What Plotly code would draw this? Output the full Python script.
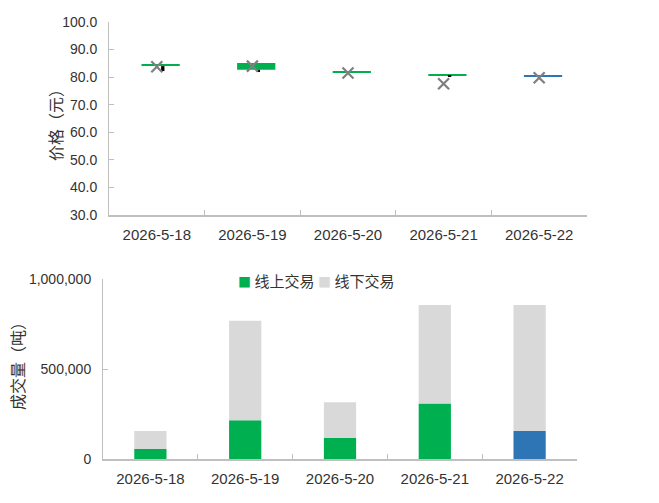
import plotly.graph_objects as go

dates = ["2026-5-18", "2026-5-19", "2026-5-20", "2026-5-21", "2026-5-22"]

# price chart (元)
price_open = [84.5, 85.1, 82.1, 81.1, 80.5]
price_close = [84.0, 82.7, 81.6, 80.6, 80.2]
price_low = [82.2, 82.2, 81.6, 80.3, 80.2]
price_avg = [83.8, 84.0, 81.5, 77.6, 79.8]
box_colors = ["#00B050", "#00B050", "#00B050", "#00B050", "#2E75B6"]

# volume chart (吨)
vol_online = [55000, 215000, 116000, 309000, 155000]
vol_offline = [100000, 553000, 199000, 547000, 701000]
online_colors = ["#00B050", "#00B050", "#00B050", "#00B050", "#2E75B6"]
series_names = ["线上交易", "线下交易"]
series_colors = ["#00B050", "#D9D9D9"]

FONT = "Liberation Sans, Noto Sans CJK SC, sans-serif"
CJK = "Noto Sans CJK SC, sans-serif"
TXT = "#333333"
AX = "#BFBFBF"

fig = go.Figure()

# boxes (open-close)
fig.add_trace(go.Bar(
    x=dates, y=[c - o for o, c in zip(price_open, price_close)], base=price_open,
    width=0.4, offset=-0.16, marker=dict(color=box_colors, line=dict(width=0)),
    xaxis="x", yaxis="y", showlegend=False, hoverinfo="skip"))
# wicks
fig.add_trace(go.Bar(
    x=dates, y=[min(o, c) - l for o, c, l in zip(price_open, price_close, price_low)],
    base=price_low, width=0.035, offset=0.045,
    marker=dict(color="#000000", line=dict(width=0)),
    xaxis="x", yaxis="y", showlegend=False, hoverinfo="skip"))
# average markers
fig.add_trace(go.Scatter(
    x=dates, y=price_avg, mode="markers",
    marker=dict(symbol="x-thin", size=11, line=dict(width=2.2, color="#7F7F7F")),
    xaxis="x", yaxis="y", showlegend=False))

# volume bars (stacked through base)
fig.add_trace(go.Bar(
    x=dates, y=vol_online, name=series_names[0], width=0.34,
    marker=dict(color=online_colors, line=dict(width=0)),
    xaxis="x2", yaxis="y2", showlegend=False))
fig.add_trace(go.Bar(
    x=dates, y=vol_offline, base=vol_online, name=series_names[1], width=0.34,
    marker=dict(color=series_colors[1], line=dict(width=0)),
    xaxis="x2", yaxis="y2", showlegend=False))

H = 503.0
W = 659.0

common_x = dict(type="category", showline=True, linecolor=AX, linewidth=1.5,
                ticks="inside", tickson="boundaries", ticklen=5, tickcolor=AX,
                showgrid=False, zeroline=False, automargin=False,
                tickfont=dict(size=15, color=TXT, family=FONT), ticklabelstandoff=5)
common_y = dict(showline=True, linecolor=AX, linewidth=1, ticks="inside", ticklen=5,
                tickcolor=AX, showgrid=False, zeroline=False, automargin=False,
                tickfont=dict(size=14, color=TXT, family=FONT), ticklabelstandoff=8)

# custom legend as text annotations
legend_ann = []
legend_x = [236, 316]
for nm, col, lx in zip(series_names, series_colors, legend_x):
    legend_ann.append(dict(
        text=f'<span style="color:{col};font-size:13px">■</span> {nm}', x=lx / W, y=1 - 280 / H,
        xref="paper", yref="paper", xanchor="left", yanchor="middle", showarrow=False,
        font=dict(size=15, color=TXT, family=CJK)))

fig.update_layout(
    width=659, height=503,
    margin=dict(l=0, r=0, t=0, b=0),
    paper_bgcolor="white", plot_bgcolor="white",
    barmode="overlay",
    font=dict(family=FONT, color=TXT),
    showlegend=False,
    xaxis=dict(domain=[109 / W, 587 / W], anchor="y", **common_x),
    yaxis=dict(domain=[1 - 215 / H, 1 - 22 / H], anchor="x", range=[30, 100], dtick=10,
               tickformat=".1f", **common_y),
    xaxis2=dict(domain=[103 / W, 577 / W], anchor="y2", **common_x),
    yaxis2=dict(domain=[1 - 459 / H, 1 - 279 / H], anchor="x2", range=[0, 1000000],
                dtick=500000, tickformat=",", **common_y),
    annotations=[
        dict(text="价格（元）", x=55 / W, y=1 - 121 / H, xref="paper", yref="paper",
             xanchor="center", yanchor="middle",
             textangle=-90, showarrow=False, font=dict(size=16, color=TXT, family=CJK)),
        dict(text="成交量（吨）", x=17 / W, y=1 - 362 / H, xref="paper", yref="paper",
             xanchor="center", yanchor="middle",
             textangle=-90, showarrow=False, font=dict(size=16, color=TXT, family=CJK)),
    ] + legend_ann,
)

fig.write_html("out.html")
